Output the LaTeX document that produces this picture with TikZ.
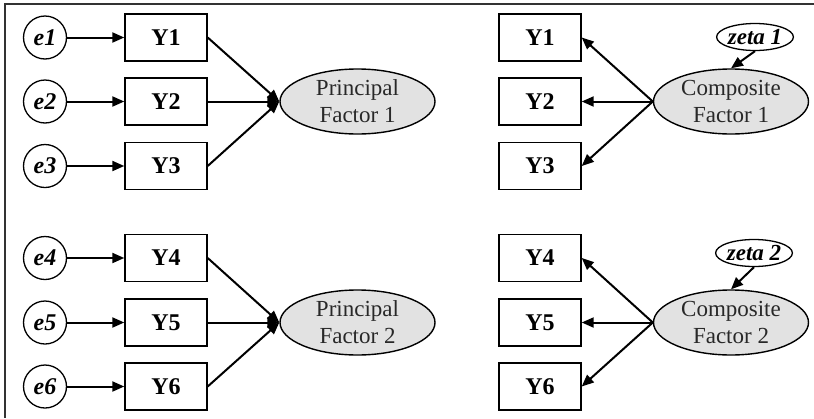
\documentclass[tikz,border=0pt]{standalone}
\usepackage{fontspec}
\setmainfont{Liberation Serif}
\usetikzlibrary{arrows.meta,shapes.geometric}

\definecolor{framegray}{RGB}{50,50,50}
\definecolor{factorfill}{RGB}{226,226,226}
\definecolor{factortext}{RGB}{40,40,40}

\tikzset{
  every node/.style={font=\fontsize{23}{27}\selectfont},
  errnode/.style={draw, line width=1.3pt, circle, minimum size=43pt, inner sep=0pt,
                  font=\fontsize{24}{28}\selectfont\bfseries\itshape},
  indicator/.style={draw, line width=1.4pt, rectangle, minimum width=82pt, minimum height=47pt,
                    inner sep=0pt, font=\fontsize{24}{28}\selectfont\bfseries},
  factor/.style={draw, line width=1.4pt, ellipse, fill=factorfill, minimum width=155pt,
                 minimum height=65pt, inner sep=0pt, align=center, text=factortext},
  disturbance/.style={draw, line width=1.3pt, ellipse, minimum width=76pt, minimum height=27pt,
                      inner sep=0pt, font=\fontsize{23}{26}\selectfont\bfseries\itshape},
  path/.style={line width=2pt, -{Triangle[length=12pt,width=10pt]}}
}

\begin{document}
\begin{tikzpicture}[x=1pt,y=-1pt]
  \useasboundingbox (0,0) rectangle (814,418);
  % open frame: top and left edges only
  \coordinate (ftl) at (5,4);
  \coordinate (ftr) at (814,4);
  \coordinate (fbl) at (5,418);
  \draw[framegray, line width=1.6pt] (ftr) -- (ftl) -- (fbl);

  % ---- left column: principal factor models ----
  \foreach \i/\y in {1/37.5, 2/101.5, 3/166, 4/258, 5/322.5, 6/386.5}{
    \node[errnode] (e\i) at (45,\y) {e\i};
    \node[indicator] (p\i) at (166,\y) {Y\i};
    \draw[path] (e\i) -- (p\i);
  }
  \node[factor] (pf1) at (357.5,101.5) {Principal\\Factor 1};
  \node[factor] (pf2) at (357.5,322.5) {Principal\\Factor 2};
  \foreach \i in {1,2,3}{ \draw[path] (p\i.east) -- (pf1.west); }
  \foreach \i in {4,5,6}{ \draw[path] (p\i.east) -- (pf2.west); }

  % ---- right column: composite factor models ----
  \foreach \i/\y in {1/37.5, 2/101.5, 3/166, 4/258, 5/322.5, 6/386.5}{
    \node[indicator] (c\i) at (540,\y) {Y\i};
  }
  \node[factor] (cf1) at (731,101.5) {Composite\\Factor 1};
  \node[factor] (cf2) at (731,322.5) {Composite\\Factor 2};
  \foreach \i in {1,2,3}{ \draw[path] (cf1.west) -- (c\i.east); }
  \foreach \i in {4,5,6}{ \draw[path] (cf2.west) -- (c\i.east); }

  \node[disturbance] (z1) at (755,37) {zeta 1};
  \node[disturbance] (z2) at (754,253) {zeta 2};
  \draw[path] (z1.south) -- (cf1.north);
  \draw[path] (z2.south) -- (cf2.north);
\end{tikzpicture}
\end{document}
